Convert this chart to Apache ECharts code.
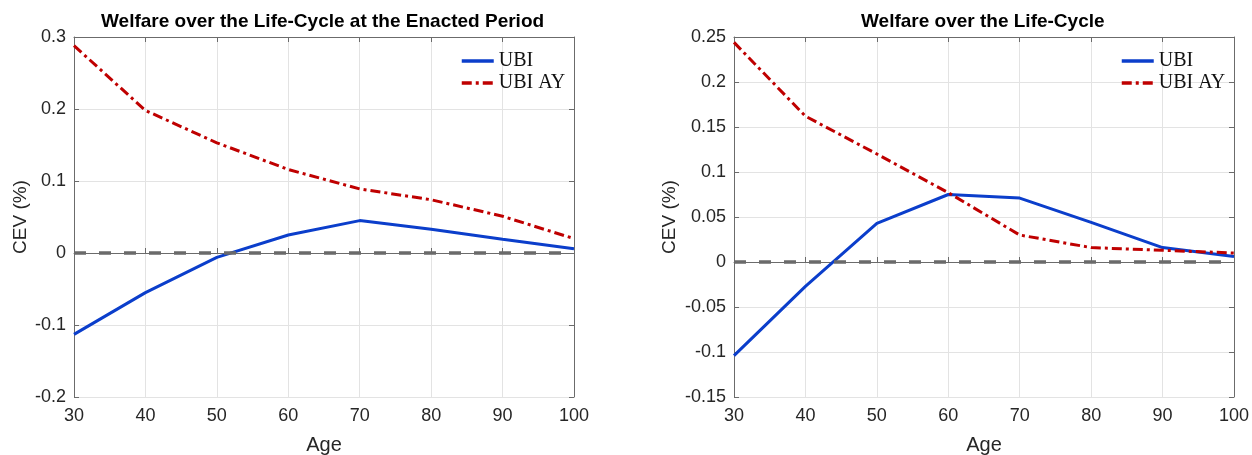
<!DOCTYPE html>
<html>
<head>
<meta charset="utf-8">
<script src="https://cdn.jsdelivr.net/npm/echarts@6/dist/echarts.min.js"></script>
<style>
  html, body { margin: 0; padding: 0; background: #fff; }
  #chart { width: 1252px; height: 455px; }
</style>
</head>
<body>
<div id="chart"></div>
<script>
// ages on the x axis
const ages = [30, 40, 50, 60, 70, 80, 90, 100];

// left panel: welfare at the enacted period
const enactedUBI   = [-0.113, -0.055, -0.006, 0.025, 0.045, 0.033, 0.019, 0.006];
const enactedUBIAY = [0.288, 0.198, 0.153, 0.116, 0.089, 0.074, 0.051, 0.020];

// right panel: welfare over the life-cycle
const lifeUBI   = [-0.104, -0.027, 0.043, 0.075, 0.071, 0.044, 0.016, 0.006];
const lifeUBIAY = [0.244, 0.162, 0.120, 0.077, 0.030, 0.016, 0.013, 0.010];

const titles = ['Welfare over the Life-Cycle at the Enacted Period', 'Welfare over the Life-Cycle'];

const blue = '#0b3ecb';
const red = '#bf0000';
const axisColor = '#6b6b6b';
const textColor = '#262626';
const font = 'Liberation Sans';
const titleSize = 19;

function pairs(ys) {
    return ages.map((a, i) => [a, ys[i]]);
}
function fmt(v) {
    return String(+v.toFixed(2));
}
// width of the title text, to centre it over its plot
function textWidth(str) {
    const ctx = document.createElement('canvas').getContext('2d');
    ctx.font = 'bold ' + titleSize + 'px "' + font + '"';
    return ctx.measureText(str).width;
}

function bottomX(grid) {
    return {
        type: 'value', gridIndex: grid, min: 30, max: 100, interval: 10,
        name: 'Age', nameLocation: 'middle', nameGap: 38,
        nameTextStyle: { fontFamily: font, fontSize: 20, color: textColor },
        axisLine: { show: true, lineStyle: { color: axisColor } },
        axisTick: { show: true, inside: true, length: 5, lineStyle: { color: axisColor } },
        axisLabel: { fontFamily: font, fontSize: 18, color: textColor, margin: 10 },
        splitLine: { show: true, lineStyle: { color: '#e3e3e3' } }
    };
}
function topX(grid) {
    return {
        type: 'value', gridIndex: grid, position: 'top', min: 30, max: 100, interval: 10,
        axisLine: { show: true, onZero: false, lineStyle: { color: axisColor } },
        axisTick: { show: true, inside: true, length: 5, lineStyle: { color: axisColor } },
        axisLabel: { show: false },
        splitLine: { show: false }
    };
}
function leftY(grid, min, max, step, gap) {
    return {
        type: 'value', gridIndex: grid, min: min, max: max, interval: step,
        name: 'CEV (%)', nameLocation: 'middle', nameGap: gap,
        nameTextStyle: { fontFamily: font, fontSize: 19, color: textColor },
        axisLine: { show: true, onZero: false, lineStyle: { color: axisColor } },
        axisTick: { show: true, inside: true, length: 5, lineStyle: { color: axisColor } },
        axisLabel: { fontFamily: font, fontSize: 18, color: textColor, margin: 8, formatter: fmt },
        splitLine: { show: true, lineStyle: { color: '#e3e3e3' } }
    };
}
function rightY(grid, min, max, step) {
    return {
        type: 'value', gridIndex: grid, position: 'right', min: min, max: max, interval: step,
        axisLine: { show: true, onZero: false, lineStyle: { color: axisColor } },
        axisTick: { show: true, inside: true, length: 5, lineStyle: { color: axisColor } },
        axisLabel: { show: false },
        splitLine: { show: false }
    };
}

// dashed zero reference line
const zeroStyle = { color: '#6a6a6a', width: 3.5, type: [12, 13], opacity: 1 };

function lines(xi, yi, ubi, ubiay) {
    return [
        {
            name: 'UBI', type: 'line', xAxisIndex: xi, yAxisIndex: yi,
            data: pairs(ubi), symbol: 'none', z: 3,
            lineStyle: { color: blue, width: 3 }, itemStyle: { color: blue },
            markLine: {
                silent: true, symbol: 'none', label: { show: false },
                lineStyle: zeroStyle,
                emphasis: { disabled: true },
                data: [{ yAxis: 0, lineStyle: zeroStyle }]
            }
        },
        {
            name: 'UBI AY', type: 'line', xAxisIndex: xi, yAxisIndex: yi,
            data: pairs(ubiay), symbol: 'none', z: 3,
            lineStyle: { color: red, width: 3, type: [10, 4, 3, 4] }, itemStyle: { color: red }
        }
    ];
}

function legendAt(left) {
    return {
        data: ['UBI', 'UBI AY'], orient: 'vertical', left: left, top: 46,
        itemWidth: 32, itemHeight: 14, itemGap: 2, selectedMode: false,
        itemStyle: { color: 'transparent', borderWidth: 0, borderColor: 'transparent' },
        lineStyle: { width: 3.5 },
        textStyle: { fontFamily: 'Liberation Serif', fontSize: 20, color: '#111' }
    };
}

function titleAt(text, centre) {
    return {
        text: text, left: Math.round(centre - textWidth(text) / 2), top: 12, padding: 0,
        textStyle: { fontFamily: font, fontSize: titleSize, fontWeight: 'bold', color: '#000' }
    };
}

const chart = echarts.init(document.getElementById('chart'));
chart.setOption({
    animation: false,
    title: [titleAt(titles[0], 323), titleAt(titles[1], 983)],
    legend: [legendAt(455), legendAt(1115)],
    grid: [
        { left: 74, top: 37, width: 500, height: 360, containLabel: false, outerBoundsMode: 'none' },
        { left: 734, top: 37, width: 500, height: 360, containLabel: false, outerBoundsMode: 'none' }
    ],
    xAxis: [bottomX(0), topX(0), bottomX(1), topX(1)],
    yAxis: [leftY(0, -0.2, 0.3, 0.1, 44), rightY(0, -0.2, 0.3, 0.1), leftY(1, -0.15, 0.25, 0.05, 55), rightY(1, -0.15, 0.25, 0.05)],
    series: [].concat(lines(0, 0, enactedUBI, enactedUBIAY), lines(2, 2, lifeUBI, lifeUBIAY))
});
</script>
</body>
</html>
